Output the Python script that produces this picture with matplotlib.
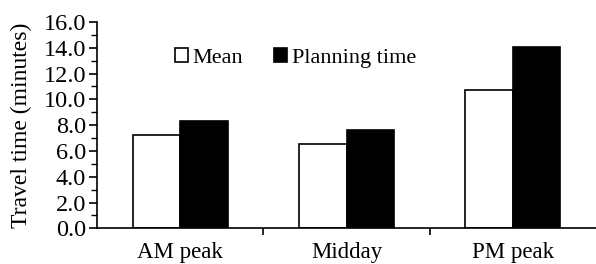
import matplotlib
matplotlib.use("Agg")
import matplotlib.pyplot as plt
import numpy as np
from matplotlib.ticker import MultipleLocator, FixedLocator, FuncFormatter

categories = ["AM peak", "Midday", "PM peak"]
mean_vals = [7.2, 6.55, 10.75]
planning_vals = [8.35, 7.6, 14.05]

plt.rcParams['font.family'] = ['Liberation Serif', 'DejaVu Serif']

fig = plt.figure(figsize=(5.96, 2.64), dpi=100)
ax = fig.add_axes([0.163, 0.135, 0.837, 0.782])

x = np.arange(len(categories))
w = 0.286
ax.bar(x - w/2, mean_vals, w, color="white", edgecolor="black", linewidth=1.2, label="Mean")
ax.bar(x + w/2, planning_vals, w, color="black", edgecolor="black", linewidth=1.2, label="Planning time")

ax.set_xlim(-0.5, 2.5)
ax.set_ylim(0, 16)
ax.yaxis.set_major_locator(MultipleLocator(2))
ax.yaxis.set_minor_locator(MultipleLocator(1))
ax.yaxis.set_major_formatter(FuncFormatter(lambda v, p: f"{v:.1f}"))
ax.set_xticks(x)
ax.set_xticklabels(categories)
ax.xaxis.set_minor_locator(FixedLocator([0.5, 1.5]))
ax.tick_params(axis="x", which="major", length=0, labelsize=16.5, pad=10)
ax.tick_params(axis="x", which="minor", length=5, width=1.2, direction="out")
ax.tick_params(axis="y", which="major", length=6, width=1.2, labelsize=17.5, pad=2)
ax.tick_params(axis="y", which="minor", length=4, width=1.0)

for s in ["top", "right"]:
    ax.spines[s].set_visible(False)
ax.spines["left"].set_linewidth(1.2)
ax.spines["bottom"].set_linewidth(1.2)

ax.set_ylabel("Travel time (minutes)", fontsize=17, labelpad=8)

ax.legend(loc="upper left", bbox_to_anchor=(0.115, 0.97), ncol=2, frameon=False,
          fontsize=16, handlelength=0.6, handleheight=0.6, handletextpad=0.2,
          columnspacing=1.4)

fig.savefig("out.png", dpi=100)
